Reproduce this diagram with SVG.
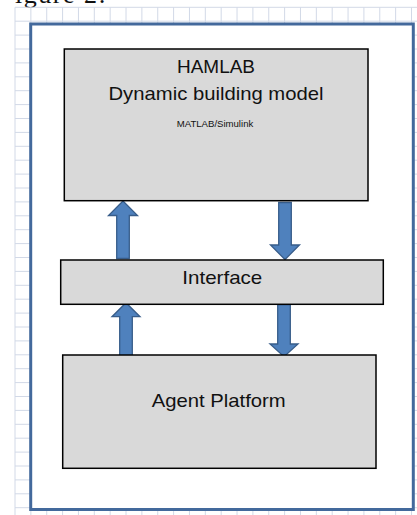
<svg xmlns="http://www.w3.org/2000/svg" width="417" height="515" viewBox="0 0 417 515">
  <style>
    .grid { stroke: #d2d9e7; stroke-width: 1; fill: none; }
    .frame { fill: #ffffff; stroke: #43699c; stroke-width: 3; }
    .box { fill: #d9d9d9; stroke: #000000; stroke-width: 1.5; }
    .lbl { font-family: "Liberation Sans", Arial, sans-serif; fill: #111111; text-anchor: middle; }
    .arrow { fill: #4f81bd; stroke: #385d8a; stroke-width: 1.3; stroke-linejoin: miter; }
    .cap { font-family: "Liberation Serif", "Times New Roman", serif; fill: #111111; }
  </style>
  <rect x="0" y="0" width="417" height="515" fill="#ffffff"/>
  <text class="cap" x="15" y="2.5" font-size="26" letter-spacing="1.5">igure 2:</text>
  <path class="grid" d="M15,7.3V515 M30.86,7.3V515 M46.72,7.3V515 M62.58,7.3V515 M78.44,7.3V515 M94.3,7.3V515 M110.16,7.3V515 M126.02,7.3V515 M141.88,7.3V515 M157.74,7.3V515 M173.6,7.3V515 M189.46,7.3V515 M205.32,7.3V515 M221.18,7.3V515 M237.04,7.3V515 M252.9,7.3V515 M268.76,7.3V515 M284.62,7.3V515 M300.48,7.3V515 M316.34,7.3V515 M332.2,7.3V515 M348.06,7.3V515 M363.92,7.3V515 M379.78,7.3V515 M395.64,7.3V515 M411.5,7.3V515
    M15,7.3H417 M15,21.2H417 M15,35.1H417 M15,49H417 M15,62.9H417 M15,76.8H417 M15,90.7H417 M15,104.6H417 M15,118.5H417 M15,132.4H417 M15,146.3H417 M15,160.2H417 M15,174.1H417 M15,188H417 M15,201.9H417 M15,215.8H417 M15,229.7H417 M15,243.6H417 M15,257.5H417 M15,271.4H417 M15,285.3H417 M15,299.2H417 M15,313.1H417 M15,327H417 M15,340.9H417 M15,354.8H417 M15,368.7H417 M15,382.6H417 M15,396.5H417 M15,410.4H417 M15,424.3H417 M15,438.2H417 M15,452.1H417 M15,466H417 M15,479.9H417 M15,493.8H417 M15,507.7H417"/>
  <rect class="frame" x="30.7" y="24" width="382.6" height="485.5"/>

  <g id="connectors">
    <path class="arrow" d="M123,201 L137.5,215.5 L129.3,215.5 L129.3,258.5 L116.7,258.5 L116.7,215.5 L108.5,215.5 Z"/>
    <path class="arrow" d="M278.7,202.5 L291.3,202.5 L291.3,245 L299.5,245 L285,259.5 L270.5,245 L278.7,245 Z"/>
    <path class="arrow" d="M126,302.7 L140,316.7 L132.3,316.7 L132.3,356 L119.7,356 L119.7,316.7 L112,316.7 Z"/>
    <path class="arrow" d="M277.7,304.5 L290.3,304.5 L290.3,344 L298,344 L284,356.7 L270,344 L277.7,344 Z"/>
  </g>

  <g id="hamlab">
    <rect class="box" x="64.3" y="49" width="303.7" height="151.7"/>
    <text class="lbl" x="216" y="72.7" font-size="18.5" textLength="78" lengthAdjust="spacingAndGlyphs">HAMLAB</text>
    <text class="lbl" x="216" y="100" font-size="18.5" textLength="215" lengthAdjust="spacingAndGlyphs">Dynamic building model</text>
    <text class="lbl" x="215" y="126.7" font-size="8.6" textLength="76.5" lengthAdjust="spacingAndGlyphs">MATLAB/Simulink</text>
  </g>

  <g id="interface">
    <rect class="box" x="60.7" y="260" width="322.6" height="44.3"/>
    <text class="lbl" x="222.3" y="284" font-size="18.5" textLength="80" lengthAdjust="spacingAndGlyphs">Interface</text>
  </g>

  <g id="agent-platform">
    <rect class="box" x="62.7" y="355" width="313.3" height="113.3"/>
    <text class="lbl" x="218.7" y="407.3" font-size="18.5" textLength="134" lengthAdjust="spacingAndGlyphs">Agent Platform</text>
  </g>
</svg>
